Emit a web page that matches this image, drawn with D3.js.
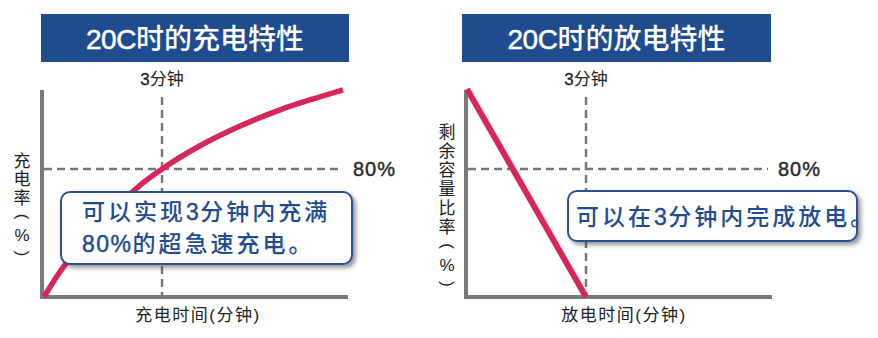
<!DOCTYPE html>
<html>
<head>
<meta charset="utf-8">
<script src="https://cdn.jsdelivr.net/npm/d3@7/dist/d3.min.js"></script>
<style>
  html, body { margin: 0; padding: 0; background: #ffffff; }
  svg { display: block; }
  text { font-family: "Liberation Sans", "Noto Sans CJK SC", sans-serif; }
</style>
</head>
<body>
<svg id="chart" width="878" height="338"></svg>
<script>
// Charging curve: time (minutes) vs charge rate (%)
const chargeTime = [0, 0.25, 0.5, 1, 1.5, 2, 2.5, 3, 4, 5, 6, 7, 7.6];
const chargeRate = [0, 10, 19, 34, 47, 60, 71, 80, 95, 107, 117, 125, 129.5];

// Discharging line: time (minutes) vs remaining capacity (%)
const dischargeTime = [0, 3];
const dischargeRemain = [130, 0];

// Reference markers
const markTime = 3;
const markLevel = 80;
const markTimeLabel = "3分钟";
const markLevelLabel = "80%";

// Panel texts
const panelTitles = ["20C时的充电特性", "20C时的放电特性"];
const xAxisTitles = ["充电时间(分钟)", "放电时间(分钟)"];
const yAxisTitles = ["充电率(%)", "剩余容量比率(%)"];
const calloutLines = [
  ["可以实现3分钟内充满", "80%的超急速充电。"],
  ["可以在3分钟内完成放电。"]
];

const timeDomain = [0, 7.6];
const percentDomain = [0, 130];

const svg = d3.select("#chart");

const defs = svg.append("defs");
const shadow = defs.append("filter").attr("id", "boxShadow")
  .attr("x", "-10%").attr("y", "-20%").attr("width", "130%").attr("height", "150%");
shadow.append("feDropShadow")
  .attr("dx", 3).attr("dy", 3).attr("stdDeviation", 2)
  .attr("flood-color", "#444").attr("flood-opacity", 0.55);

const BLUE = "#1f4c8f";
const TEXT_BLUE = "#1f4c92";
const RED = "#d8265b";
const GRAY = "#7a7a7a";
const DASH = "#777777";

const panels = [
  {
    title: panelTitles[0], titleBox: [41, 14, 308, 48],
    xRange: [44, 343], axisX: [41, 348], yAxisX: 42,
    series: chargeTime.map((t, i) => ({ t, v: chargeRate[i] })),
    curve: d3.curveMonotoneX, strokeWidth: 5.5,
    levelEnd: 343, levelLabelX: 353,
    callout: [61, 192, 291, 72], calloutTextX: 82, calloutLineY: [212, 244],
    lines: calloutLines[0],
    xTitle: xAxisTitles[0], xTitleX: 198,
    yTitle: yAxisTitles[0], yTitleX: 22, yTitleTop: 161, yTitlePitch: 18.5
  },
  {
    title: panelTitles[1], titleBox: [462, 14, 309, 48],
    xRange: [467, 768.5], axisX: [465, 772], yAxisX: 466,
    series: dischargeTime.map((t, i) => ({ t, v: dischargeRemain[i] })),
    curve: d3.curveLinear, strokeWidth: 6,
    levelEnd: 768, levelLabelX: 778,
    callout: [568, 191, 289, 50], calloutTextX: 576, calloutLineY: [217],
    lines: calloutLines[1],
    xTitle: xAxisTitles[1], xTitleX: 624,
    yTitle: yAxisTitles[1], yTitleX: 447, yTitleTop: 132, yTitlePitch: 19
  }
];

// Split a string into runs of Latin/digit and CJK characters
function runs(str) {
  const out = [];
  const isAscii = c => /[0-9A-Za-z%]/.test(c);
  for (const c of str) {
    const a = isAscii(c);
    if (out.length && out[out.length - 1].ascii === a) out[out.length - 1].text += c;
    else out.push({ text: c, ascii: a });
  }
  return out;
}

// Medium-weight Latin: regular face with a thin outline in the fill colour
function medium(sel, color, w) {
  return sel.attr("stroke", color).attr("stroke-width", w).attr("paint-order", "stroke");
}

panels.forEach(p => {
  const g = svg.append("g");
  const x = d3.scaleLinear().domain(timeDomain).range(p.xRange);
  const y = d3.scaleLinear().domain(percentDomain).range([297, 89]);

  // Title banner
  const [bx, by, bw, bh] = p.titleBox;
  g.append("rect").attr("x", bx).attr("y", by).attr("width", bw).attr("height", bh)
    .attr("fill", BLUE);
  const title = g.append("text").attr("x", bx + bw / 2).attr("y", by + bh / 2 + 1)
    .attr("text-anchor", "middle").attr("dominant-baseline", "central")
    .attr("fill", "#ffffff").attr("font-size", 28).attr("font-weight", 500);
  runs(p.title).forEach(r => {
    const ts = title.append("tspan").attr("font-weight", 500)
      .attr("letter-spacing", r.ascii ? -0.5 : 0).text(r.text);
    if (r.ascii) medium(ts, "#ffffff", 0.5);
  });

  // Reference lines at 3 minutes and 80%
  g.append("line")
    .attr("x1", x(markTime)).attr("x2", x(markTime))
    .attr("y1", 97).attr("y2", y(0))
    .attr("stroke", DASH).attr("stroke-width", 2.5).attr("stroke-dasharray", "8,5");
  g.append("line")
    .attr("x1", p.yAxisX + 2).attr("x2", p.levelEnd)
    .attr("y1", y(markLevel)).attr("y2", y(markLevel))
    .attr("stroke", DASH).attr("stroke-width", 2.5).attr("stroke-dasharray", "8,5");

  const tl = g.append("text").attr("x", x(markTime)).attr("y", 79)
    .attr("text-anchor", "middle").attr("dominant-baseline", "central")
    .attr("font-size", 17).attr("fill", "#222");
  runs(markTimeLabel).forEach(r => {
    const ts = tl.append("tspan").text(r.text);
    if (r.ascii) medium(ts, "#222", 0.3);
  });
  medium(g.append("text").attr("x", p.levelLabelX).attr("y", y(markLevel))
    .attr("dominant-baseline", "central")
    .attr("font-size", 20).attr("letter-spacing", 1).attr("fill", "#2a2a2a").text(markLevelLabel),
    "#2a2a2a", 0.45);

  // Axes
  g.append("path")
    .attr("d", d3.line()([[p.yAxisX, y(percentDomain[1]) + 1], [p.yAxisX, y(0)], [p.axisX[1], y(0)]]))
    .attr("fill", "none").attr("stroke", GRAY).attr("stroke-width", 4)
    .attr("stroke-linejoin", "miter");

  // Data curve
  g.append("path").datum(p.series)
    .attr("d", d3.line().x(d => x(d.t)).y(d => y(d.v)).curve(p.curve))
    .attr("fill", "none").attr("stroke", RED).attr("stroke-width", p.strokeWidth)
    .attr("stroke-linecap", "butt");

  // Callout box
  const [cx, cy, cw, ch] = p.callout;
  g.append("rect").attr("x", cx).attr("y", cy).attr("width", cw).attr("height", ch)
    .attr("rx", 9).attr("ry", 9)
    .attr("fill", "#ffffff").attr("stroke", "#2b5196").attr("stroke-width", 2)
    .attr("filter", "url(#boxShadow)");
  p.lines.forEach((line, i) => {
    const t = g.append("text").attr("x", p.calloutTextX).attr("y", p.calloutLineY[i])
      .attr("dominant-baseline", "central")
      .attr("font-size", 23).attr("fill", TEXT_BLUE);
    runs(line).forEach(r => {
      const ts = t.append("tspan")
        .attr("font-weight", 500)
        .attr("letter-spacing", r.ascii ? 1.5 : 3)
        .text(r.text);
      if (r.ascii) medium(ts, TEXT_BLUE, 0.45);
    });
  });

  // Axis titles
  g.append("text").attr("x", p.xTitleX).attr("y", 315)
    .attr("text-anchor", "middle").attr("dominant-baseline", "central")
    .attr("font-size", 17).attr("letter-spacing", 1.5).attr("fill", "#222").text(p.xTitle);

  // Vertical y title, one character per row; brackets turned sideways
  const chars = Array.from(p.yTitle);
  g.selectAll("text.ytitle").data(chars).join("text")
    .attr("class", "ytitle")
    .attr("x", p.yTitleX)
    .attr("y", (d, i) => p.yTitleTop + i * p.yTitlePitch)
    .attr("transform", (d, i) => (d === "(" || d === ")")
      ? `rotate(90, ${p.yTitleX}, ${p.yTitleTop + i * p.yTitlePitch})` : null)
    .attr("text-anchor", "middle").attr("dominant-baseline", "central")
    .attr("font-size", 17).attr("fill", "#222")
    .attr("font-family", "Noto Sans CJK SC, sans-serif")
    .text(d => d);
});
</script>
</body>
</html>
